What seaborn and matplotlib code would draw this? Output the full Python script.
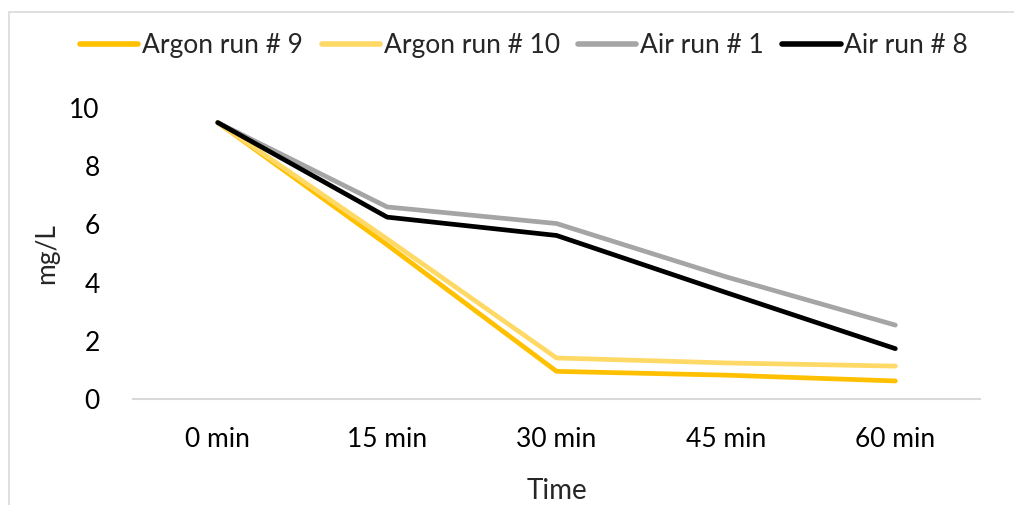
import matplotlib
matplotlib.use("Agg")
import matplotlib.pyplot as plt
import seaborn as sns
import pandas as pd
from matplotlib.patches import Rectangle

times = ["0 min", "15 min", "30 min", "45 min", "60 min"]
argon_9 = [9.5, 5.3, 0.95, 0.82, 0.62]
argon_10 = [9.5, 5.5, 1.41, 1.24, 1.13]
air_1 = [9.5, 6.6, 6.03, 4.2, 2.54]
air_8 = [9.5, 6.25, 5.62, 3.66, 1.73]
series_names = ["Argon run # 9", "Argon run # 10", "Air run # 1", "Air run # 8"]
colors = ["#FFC000", "#FFD966", "#A5A5A5", "#000000"]

rows = []
for name, vals in zip(series_names, [argon_9, argon_10, air_1, air_8]):
    for t, v in zip(times, vals):
        rows.append({"Time": t, "mg/L": v, "Series": name})
df = pd.DataFrame(rows)

sns.set_theme(style="white")
plt.rcParams["font.family"] = ["Lato", "DejaVu Sans"]

fig = plt.figure(figsize=(10.14, 5.05), dpi=100)
ax = fig.add_axes([0.1312, 0.2099, 0.8353, 0.5762])

sns.lineplot(data=df, x="Time", y="mg/L", hue="Series", hue_order=series_names,
             palette=colors, linewidth=3.4, sort=False, ax=ax, legend=True)
for line in ax.get_lines():
    line.set_solid_capstyle("round")
    line.set_solid_joinstyle("round")

ax.set_xlim(-0.5, 4.5)
ax.set_ylim(0, 10)
ax.set_yticks([0, 2, 4, 6, 8, 10])
ax.tick_params(axis="both", length=0, labelsize=19, colors="#000000")
ax.tick_params(axis="y", pad=24)
ax.tick_params(axis="x", pad=20)
for s in ["top", "right", "left"]:
    ax.spines[s].set_visible(False)
ax.spines["bottom"].set_color("#D9D9D9")
ax.spines["bottom"].set_linewidth(1.5)
ax.set_xlabel("Time", fontsize=20, labelpad=19)
ax.set_ylabel("mg/L", fontsize=19, labelpad=7)

handles, labels = ax.get_legend_handles_labels()
leg = ax.legend(handles, labels, loc="center", bbox_to_anchor=(0.517, 0.909),
                bbox_transform=fig.transFigure, ncol=4, frameon=False,
                fontsize=19, handlelength=2.2, handletextpad=0.15,
                columnspacing=0.7)
for lh in leg.get_lines():
    lh.set_linewidth(4.0)
    lh.set_solid_capstyle("round")

fig.patches.append(Rectangle((9 / 1014, -0.05), 1.1, 1 - 12 / 505 + 0.05,
                             transform=fig.transFigure, fill=False,
                             edgecolor="#D9D9D9", linewidth=1.2, zorder=0))

fig.savefig("out.png", dpi=100)
